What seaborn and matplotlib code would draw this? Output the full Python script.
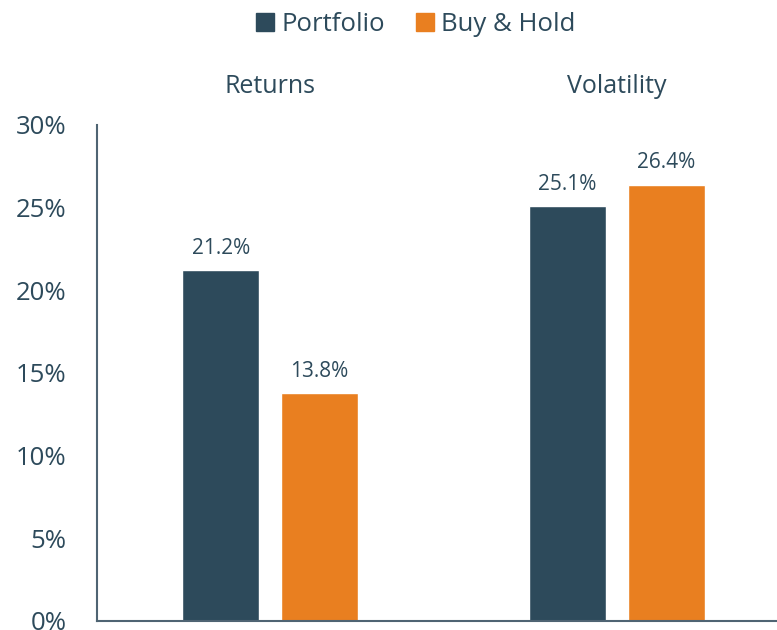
import matplotlib
matplotlib.use("Agg")
import matplotlib.pyplot as plt
import pandas as pd
import seaborn as sns

# datos
metricas = ["Returns", "Volatility"]
portfolio = [21.2, 25.1]
buy_hold = [13.8, 26.4]
series = ["Portfolio", "Buy & Hold"]
colores = ["#2d4a5b", "#e97f20"]
texto = "#2d4a5b"

df = pd.DataFrame({
    "metrica": metricas * 2,
    "valor": portfolio + buy_hold,
    "serie": [series[0]] * 2 + [series[1]] * 2,
})

sns.set_style("white")
plt.rcParams["font.family"] = ["Open Sans", "DejaVu Sans"]

fig = plt.figure(figsize=(7.77, 6.3), dpi=100)
ax = fig.add_axes([0.1248, 0.0143, 0.8752, 0.7873])

sns.barplot(data=df, x="metrica", y="valor", hue="serie", palette=colores,
            width=0.57, gap=0.22, ax=ax, saturation=1)

for cont in ax.containers:
    ax.bar_label(cont, fmt="%.1f%%", padding=8, fontsize=15, color=texto)

ax.set_ylim(0, 30)
ax.set_xlim(-0.5, 1.462)
ax.set_yticks(range(0, 31, 5))
ax.set_yticklabels([f"{v}%" for v in range(0, 31, 5)])
ax.set_xlabel("")
ax.set_ylabel("")
ax.xaxis.set_ticks_position("top")
ax.tick_params(axis="x", length=0, pad=19, labelsize=18, labelcolor=texto)
ax.tick_params(axis="y", length=0, pad=22, labelsize=18.5, labelcolor=texto)

for s in ["top", "right"]:
    ax.spines[s].set_visible(False)
for s in ["left", "bottom"]:
    ax.spines[s].set_color("#4f6473")
    ax.spines[s].set_linewidth(1.5)

ax.legend_.remove()
handles = [plt.Rectangle((0, 0), 1, 1, color=c) for c in colores]
leg = fig.legend(handles, series, loc="upper center", bbox_to_anchor=(0.535, 1.018),
                 ncol=2, frameon=False, fontsize=18.5, handlelength=0.7,
                 handleheight=0.7, handletextpad=0.3, columnspacing=1.2)
for t in leg.get_texts():
    t.set_color(texto)

plt.savefig("out.png", dpi=100)
